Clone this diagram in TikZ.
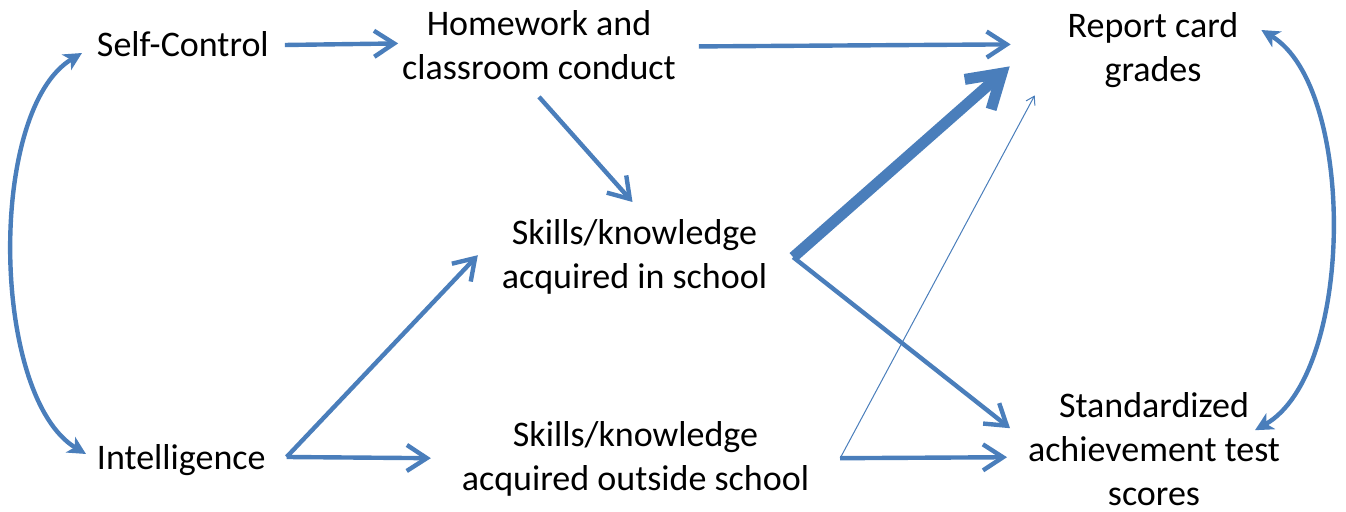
\documentclass[tikz,border=0pt]{standalone}
\usepackage{fontspec}
\setmainfont{Carlito}
\usetikzlibrary{arrows.meta,calc}
\definecolor{lineblue}{RGB}{74,126,187}
\begin{document}
\begin{tikzpicture}[x=0.5pt,y=-0.5pt,
  box/.style={inner sep=0pt, outer sep=0pt, align=center, font=\fontsize{18}{21.8}\selectfont},
  arr/.style={draw=lineblue, line width=2.2pt, -{Straight Barb[length=10pt,width=13pt]}},
  fatarr/.style={draw=lineblue, line width=5.5pt, line join=round, -{Straight Barb[length=16pt,width=20pt]}},
  thinarr/.style={draw=lineblue, line width=0.5pt, -{Straight Barb[length=4pt,width=5pt]}},
  curvarr/.style={draw=lineblue, line width=2.2pt, {Stealth[length=9pt,width=9pt,inset=2.5pt]}-{Stealth[length=9pt,width=9pt,inset=2.5pt]}}]
\useasboundingbox (0,0) rectangle (1346,512);
\node [box, anchor=base west] (self) at (97,57) {Self-Control};
\node [box, anchor=north] (home) at (539,11) {Homework and\\classroom conduct};
\node [box, anchor=north] (report) at (1153,13) {Report card\\grades};
\node [box, anchor=north] (inschool) at (634.5,220) {Skills/knowledge\\acquired in school};
\node [box, anchor=base west] (intel) at (97,470) {Intelligence};
\node [box, anchor=north] (outschool) at (635.5,422) {Skills/knowledge\\acquired outside school};
\node [box, anchor=north] (stand) at (1154,393) {Standardized\\achievement test\\scores};
\draw [arr] ([shift={(16,-12)}]self.base east) -- ([shift={(-4,-2)}]home.west);
\draw [arr] ([shift={(23,1)}]home.east) -- ([shift={(-57,-6)}]report.west);
\draw [arr] ([shift={(0,17)}]home.south) -- ([shift={(-2,-18)}]inschool.north);
\draw [arr] ([shift={(21,-13)}]intel.base east) -- ([shift={(-24,-2)}]inschool.west);
\draw [arr] ([shift={(21,-13)}]intel.base east) -- ([shift={(-31,-1)}]outschool.west);
\draw [fatarr] ([shift={(26,0)}]inschool.east) -- ([shift={(-58,16)}]report.west);
\draw [arr] ([shift={(26,0)}]inschool.east) -- ([shift={(-18,-21)}]stand.west);
\draw [arr] ([shift={(31,-1)}]outschool.east) -- ([shift={(-21,8)}]stand.west);
\draw [thinarr] ([shift={(31,-1)}]outschool.east) -- ([shift={(-33,45)}]report.west);
\draw [curvarr] ([shift={(-15,-4)}]self.base west) .. controls +(-95,57) and +(-95,-57) .. ([shift={(-11,-16)}]intel.base west);
\draw [curvarr] ([shift={(23,17)}]report.north east) .. controls +(95,57) and +(100,-57) .. ([shift={(-25,-19)}]stand.east);
\end{tikzpicture}
\end{document}
